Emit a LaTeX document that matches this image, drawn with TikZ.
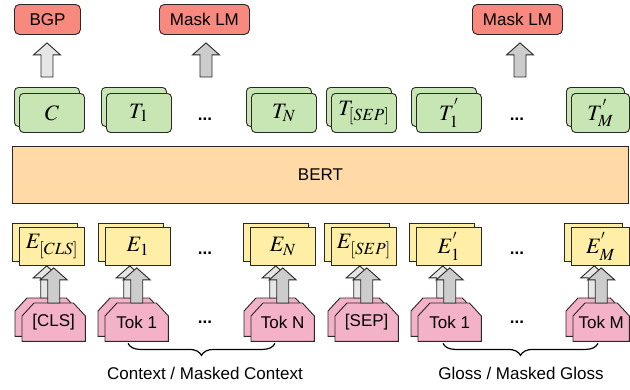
\documentclass[tikz,border=0pt]{standalone}
\usepackage{mathptmx}
\usepackage[no-math]{fontspec}
\newfontfamily\labelfont{Liberation Sans}
\DeclareMathSizes{22}{22}{17}{13}
\usetikzlibrary{calc,decorations.pathreplacing}

\definecolor{headred}{RGB}{248,137,126}
\definecolor{outgreen}{RGB}{200,230,180}
\definecolor{bertorange}{RGB}{255,217,166}
\definecolor{embyellow}{RGB}{255,238,165}
\definecolor{tokpink}{RGB}{244,178,200}
\definecolor{arrowlight}{RGB}{230,230,230}
\definecolor{arrowdark}{RGB}{204,204,204}
\definecolor{edgegray}{RGB}{40,40,40}

\tikzset{
  sanslabel/.style={font=\labelfont\fontsize{17}{20}\selectfont},
  mathlabel/.style={font=\fontsize{22}{26}\selectfont},
  box/.style={draw=edgegray, line width=0.9pt, inner sep=0pt, anchor=north west},
  headbox/.style={box, fill=headred, rounded corners=5pt, minimum width=90pt, minimum height=30pt, sanslabel},
  outbox/.style={box, fill=outgreen, rounded corners=4pt, minimum width=65pt, minimum height=39pt, mathlabel},
  embbox/.style={box, fill=embyellow, minimum width=65pt, minimum height=38pt, mathlabel},
  tokframe/.style={inner sep=0pt, anchor=north west, minimum height=38pt},
  tokoutline/.style={draw=edgegray, fill=tokpink, line width=0.9pt, line join=miter},
  bertbox/.style={box, fill=bertorange, minimum width=616pt, minimum height=57pt, sanslabel},
  dots/.style={font=\labelfont\bfseries\fontsize{17}{20}\selectfont, inner sep=0pt},
  blockarrow/.style={draw=edgegray, line width=0.9pt, line join=miter},
  bracket/.style={draw=black, line width=1.2pt, decorate, decoration={brace, mirror, amplitude=12pt}},
}

% block arrow from #2 (foot) up to #3 (tip), filled with #1
\newcommand\fatarrow[3]{%
  \path[blockarrow, fill=#1] let \p1=(#2), \p2=(#3) in
    (\x1-6pt,\y1) -- (\x1-6pt,\y2-12pt) -- (\x1-13.5pt,\y2-12pt) -- (\x1,\y2)
    -- (\x1+13.5pt,\y2-12pt) -- (\x1+6pt,\y2-12pt) -- (\x1+6pt,\y1) -- cycle;}

% token box with cut top corners: name, x, y, width, text
\newcommand\tokenbox[5]{%
  \node[tokframe, minimum width=#4pt] (#1) at (#2,#3) {};
  \path[tokoutline] (#1.south west) -- ([yshift=-13pt]#1.north west)
    -- ([xshift=12pt]#1.north west) -- ([xshift=-12pt]#1.north east)
    -- ([yshift=-13pt]#1.north east) -- (#1.south east) -- cycle;
  \node[sanslabel, inner sep=0pt] (#1text) at (#1.center) {#5};}

\begin{document}
\begin{tikzpicture}[x=1pt,y=-1pt]
\useasboundingbox (0,0) rectangle (630,389);

% prediction heads
\node[headbox, minimum width=66pt] (bgp) at (14,4) {BGP};
\node[headbox] (mlmA) at (159,4) {Mask LM};
\node[headbox] (mlmB) at (472,4) {Mask LM};

\coordinate (bgpfoot) at (47,77);
\coordinate (mlmAfoot) at (206,77);
\coordinate (mlmBfoot) at (520,77);
\fatarrow{arrowlight}{bgpfoot}{$(bgp.south)+(0,8)$}
\fatarrow{arrowdark}{mlmAfoot}{$(mlmA.south)+(0,8)$}
\fatarrow{arrowdark}{mlmBfoot}{$(mlmB.south)+(0,8)$}

% output representations
\node[outbox] (oCb) at (14,87) {};
\node[outbox] (oC) at (19,93) {$C$};
\node[outbox] (oAb) at (101,87) {};
\node[outbox] (oA) at (106,93) {$T_1$};
\node[outbox] (oNb) at (246,87) {};
\node[outbox] (oN) at (251,93) {$T_N$};
\node[outbox] (oSb) at (326,87) {};
\node[outbox] (oS) at (331,93) {$T_{[SEP]}$};
\node[outbox] (oGb) at (411,87) {};
\node[outbox] (oG) at (416,93) {$T^{'}_{1}$};
\node[outbox, minimum width=58pt] (oMb) at (566,87) {};
\node[outbox, minimum width=58pt] (oM) at (571,93) {$T^{'}_{M}$};

\node[dots] (odotsA) at (205,119) {...};
\node[dots] (odotsB) at (517,119) {...};

% encoder
\node[bertbox] (bert) at (12,146) {BERT};

% input embeddings
\node[embbox] (eCb) at (12,223) {};
\node[embbox] (eC) at (19,227) {$E_{[CLS]}$};
\node[embbox] (eAb) at (98,223) {};
\node[embbox] (eA) at (105,227) {$E_1$};
\node[embbox] (eNb) at (243,223) {};
\node[embbox] (eN) at (250,227) {$E_N$};
\node[embbox] (eSb) at (324,223) {};
\node[embbox] (eS) at (331,227) {$E_{[SEP]}$};
\node[embbox] (eGb) at (409,223) {};
\node[embbox] (eG) at (416,227) {$E^{'}_{1}$};
\node[embbox, minimum width=58pt] (eMb) at (564,223) {};
\node[embbox, minimum width=58pt] (eM) at (571,227) {$E^{'}_{M}$};

\node[dots] (edotsA) at (205,253) {...};
\node[dots] (edotsB) at (517,253) {...};

% input tokens with their arrows into the embeddings
\tokenbox{tCb}{15}{298}{63}{}
\fatarrow{arrowlight}{tCb.north}{eC.south -| tCb.north}
\tokenbox{tC}{22}{303}{63}{[CLS]}
\fatarrow{arrowdark}{tC.north}{$(eC.south -| tC.north)+(0,2)$}

\tokenbox{tAb}{98}{298}{63}{}
\fatarrow{arrowlight}{tAb.north}{eA.south -| tAb.north}
\tokenbox{tA}{105}{303}{63}{Tok 1}
\fatarrow{arrowdark}{tA.north}{$(eA.south -| tA.north)+(0,2)$}

\tokenbox{tNb}{244}{298}{63}{}
\fatarrow{arrowlight}{tNb.north}{eN.south -| tNb.north}
\tokenbox{tN}{251}{303}{63}{Tok N}
\fatarrow{arrowdark}{tN.north}{$(eN.south -| tN.north)+(0,2)$}

\tokenbox{tSb}{328}{298}{63}{}
\fatarrow{arrowlight}{tSb.north}{eS.south -| tSb.north}
\tokenbox{tS}{335}{303}{63}{[SEP]}
\fatarrow{arrowdark}{tS.north}{$(eS.south -| tS.north)+(0,2)$}

\tokenbox{tGb}{411}{298}{63}{}
\fatarrow{arrowlight}{tGb.north}{eG.south -| tGb.north}
\tokenbox{tG}{418}{303}{63}{Tok 1}
\fatarrow{arrowdark}{tG.north}{$(eG.south -| tG.north)+(0,2)$}

\tokenbox{tMb}{566}{298}{56}{}
\fatarrow{arrowlight}{tMb.north}{eM.south -| tMb.north}
\tokenbox{tM}{573}{303}{56}{Tok M}
\fatarrow{arrowdark}{tM.north}{$(eM.south -| tM.north)+(0,2)$}

\node[dots] (tdotsA) at (205,322) {...};
\node[dots] (tdotsB) at (517,322) {...};

% segment braces
\coordinate (ctxL) at ($(tA.south west)+(23,2)$);
\coordinate (ctxR) at ($(tN.south west)+(24,2)$);
\coordinate (glsL) at ($(tG.south west)+(25,2)$);
\coordinate (glsR) at ($(tM.south west)+(25,2)$);
\draw[bracket] (ctxL) -- (ctxR);
\draw[bracket] (glsL) -- (glsR);
\node[sanslabel, inner sep=0pt] (ctxlabel) at (205,373) {Context / Masked Context};
\node[sanslabel, inner sep=0pt] (glslabel) at (521,373) {Gloss / Masked Gloss};
\end{tikzpicture}
\end{document}
